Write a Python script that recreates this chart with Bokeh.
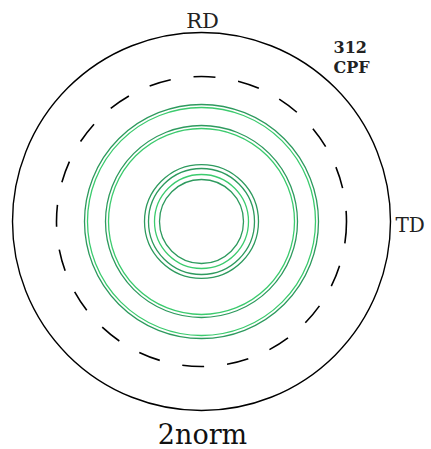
from bokeh.plotting import figure
from bokeh.models import Range1d, ColumnDataSource
from bokeh.core.properties import value
from bokeh.embed import file_html
from bokeh.resources import INLINE

# Pole figure data (radii in projection units, pixel-scaled)
outer_radius = [189]
dashed_radius = [145]
ring_radii = [117, 114, 96, 93, 57, 53, 47, 42]
ring_colors = ["#2E9A5E", "#3CCB6E", "#2E9A5E", "#3CCB6E", "#2E9A5E", "#2E9A5E", "#3CCB6E", "#2E9A5E"]
labels_top = ["RD"]
labels_right = ["TD"]
info_labels = ["312", "CPF"]
title_label = ["2norm"]

cx, cy = 201, 221  # centre of the projection in the picture
W, H = 431, 449

p = figure(width=W, height=H,
           x_range=Range1d(-cx, W - cx), y_range=Range1d(cy - H, cy),
           output_backend="svg", toolbar_location=None, min_border=0)
p.axis.visible = False
p.grid.visible = False
p.outline_line_color = None
p.background_fill_color = "white"

p.circle(x=[0], y=[0], radius=outer_radius, fill_color=None, line_color="black", line_width=1.4)
p.circle(x=[0], y=[0], radius=dashed_radius, fill_color=None, line_color="black",
         line_width=1.6, line_dash="22 23")

src = ColumnDataSource(dict(x=[0] * len(ring_radii), y=[0] * len(ring_radii), r=ring_radii, c=ring_colors))
p.circle(x="x", y="y", radius="r", source=src, fill_color=None, line_color="c", line_width=1.3)

serif = value("DejaVu Serif")
p.text(x=[1], y=[cy - 20], text=labels_top, text_font=serif, text_font_size="21px",
       text_align="center", text_baseline="alphabetic", text_color="#222222")
p.text(x=[395 - cx], y=[cy - 224], text=labels_right, text_font=serif, text_font_size="20px",
       text_align="left", text_baseline="alphabetic", text_color="#222222")
p.text(x=[333 - cx, 333 - cx], y=[cy - 46, cy - 67], text=info_labels, text_font=serif,
       text_font_size="16px", text_font_style="bold", text_align="left",
       text_baseline="alphabetic", text_color="#222222")
p.text(x=[1], y=[cy - 434], text=title_label, text_font=serif, text_font_size="27px",
       text_align="center", text_baseline="alphabetic", text_color="#111111")

open("out.html", "w").write(file_html(p, INLINE))
